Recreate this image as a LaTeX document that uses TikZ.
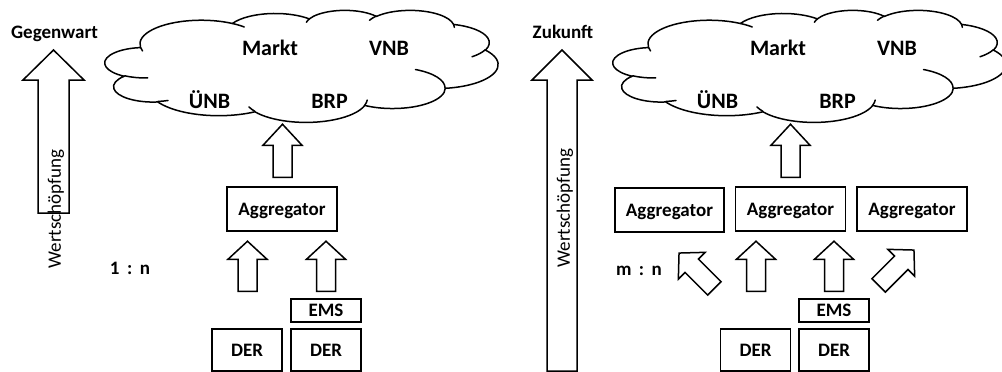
\documentclass[tikz,border=0pt]{standalone}
\usepackage{fontspec}
\setmainfont{Carlito}
\usetikzlibrary{calc}

\tikzset{
  ink/.style={draw=black, line width=1.5pt},
  box/.style={ink, fill=white, rectangle, inner sep=0pt, text height=12pt, text depth=0pt,
    font=\bfseries\fontsize{19}{19}\selectfont},
  lbl/.style={inner sep=0pt, anchor=base, font=\bfseries\fontsize{19}{19}\selectfont},
  actor/.style={inner sep=0pt, anchor=base, font=\bfseries\fontsize{22}{22}\selectfont},
  axistext/.style={inner sep=0pt, rotate=90, font=\fontsize{19}{19}\selectfont},
  % elliptical arc given by radii, start angle and sweep measured as ray angles
  carc/.style n args={4}{insert path={arc[x radius=#1, y radius=#2,
      start angle={atan2(#1*sin(#3),#2*cos(#3))},
      delta angle={mod(atan2(#1*sin(#3+#4),#2*cos(#3+#4))-atan2(#1*sin(#3),#2*cos(#3))+720,360)}]}},
  % hollow block arrow: length, head length, head width, shaft width
  pics/blockarrow/.style n args={4}{code={
    \draw[ink, fill=white] (0,{-#4/2}) -- ({#1-#2},{-#4/2}) -- ({#1-#2},{-#3/2}) -- (#1,0)
      -- ({#1-#2},{#3/2}) -- ({#1-#2},{#4/2}) -- (0,{#4/2}) -- cycle;}},
  % cloud outline on a 100 x 100 grid
  pics/cloud/.style={code={
    \draw[ink, fill=white, line join=round] (9.0278,33.2639)
      [carc={15.632}{21.273}{-190.4875}{123.7805}]
      [carc={12.345}{16.822}{-144.1024}{89.9452}]
      [carc={10.104}{13.762}{-145.8079}{99.7230}]
      [carc={11.243}{15.266}{-130.9861}{117.2417}]
      [carc={12.345}{16.836}{-78.7089}{109.0269}]
      [carc={15.683}{21.343}{-46.2673}{130.2690}]
      [carc={13.391}{18.211}{0.6250}{114.0333}]
      [carc={15.630}{21.331}{22.4516}{115.1726}]
      [carc={17.870}{24.405}{66.2426}{75.7110}]
      [carc={10.093}{13.699}{-274.9421}{146.7356}]
      [carc={10.058}{13.762}{-246.8285}{152.5189}]
      -- cycle;
    \draw[ink, line cap=round]
      (10.863,60.595) [carc={10.058}{13.762}{86.742}{26.4295}]
      (16.037,80.785) [carc={10.093}{13.699}{73.6105}{11.4475}]
      (38.144,90.486) [carc={15.630}{21.331}{137.6242}{14.0811}]
      (66.729,80.442) [carc={15.630}{21.331}{6.4533}{15.9984}]
      (79.002,53.134) [carc={13.391}{18.211}{-70.2924}{70.9174}]
      (96.755,35.542) [carc={12.345}{16.836}{30.318}{27.7515}]
      (88.713,12.560) [carc={11.243}{15.266}{-13.7443}{14.8589}]
      (67.310,9.148) [carc={11.243}{15.266}{-149.1815}{18.1954}]
      (51.252,10.926) [carc={10.104}{13.762}{-163.4943}{17.6864}]
      (32.407,12.019) [carc={15.632}{21.273}{-66.707}{12.3194}]
      (9.553,36.549) [carc={15.632}{21.273}{157.6544}{11.8582}];
  }},
}

\begin{document}
\begin{tikzpicture}[x=1pt, y=-1pt]
\useasboundingbox (0,0) rectangle (1002,372);

% ---------------- present ----------------
\begin{scope}[shift={(105,10)}, x=3.93pt, y=-1.12pt]
  \pic {cloud};
\end{scope}
\node[actor] (L-markt) at (270,55) {Markt};
\node[actor] (L-vnb) at (389,55) {VNB};
\node[actor] (L-unb) at (209.5,108) {ÜNB};
\node[actor] (L-brp) at (329.5,108) {BRP};

\node[lbl] (L-title) at (54.5,38) {Gegenwart};
\pic[rotate=90] at (53.5,213) {blockarrow={163}{30}{61}{31}};
\node[axistext] (L-axis) at (56,209) {Wertschöpfung};
\node[lbl] (L-ratio) at (130,274) {1\hspace{7.5pt}:\hspace{7.5pt}n};

\node[box, minimum width=110pt, minimum height=44pt] (L-agg) at (282,209) {Aggregator};
\node[box, minimum width=70pt, minimum height=23pt] (L-ems) at (326,310.5) {EMS};
\node[box, minimum width=70pt, minimum height=42pt] (L-der1) at (247,350) {DER};
\node[box, minimum width=70pt, minimum height=42pt] (L-der2) at (326,350) {DER};

\pic[rotate=90] at ($(L-agg.north)+(0.5,-9)$) {blockarrow={53}{21}{39}{19}};
\pic[rotate=90] at ($(L-der1.north)+(0.5,-37)$) {blockarrow={50}{18}{39}{19}};
\pic[rotate=90] at ($(L-ems.north)+(0,-7)$) {blockarrow={50}{18}{39}{19}};

% ---------------- future ----------------
\begin{scope}[shift={(613,10)}, x=3.93pt, y=-1.12pt]
  \pic {cloud};
\end{scope}
\node[actor] (R-markt) at (778,55) {Markt};
\node[actor] (R-vnb) at (897,55) {VNB};
\node[actor] (R-unb) at (717.5,108) {ÜNB};
\node[actor] (R-brp) at (837.5,108) {BRP};

\node[lbl] (R-title) at (563,38) {Zukunft};
\pic[rotate=90] at (562,371) {blockarrow={321}{30}{60}{30}};
\node[axistext] (R-axis) at (565,208) {Wertschöpfung};
\node[lbl] (R-ratio) at (639,275) {m\hspace{7.5pt}:\hspace{7.5pt}n};

\node[box, minimum width=109pt, minimum height=44pt] (R-aggL) at (669.5,210) {Aggregator};
\node[box, minimum width=110pt, minimum height=44pt] (R-agg) at (790.5,209) {Aggregator};
\node[box, minimum width=110pt, minimum height=44pt] (R-aggR) at (912,209) {Aggregator};
\node[box, minimum width=70pt, minimum height=23pt] (R-ems) at (834,310.5) {EMS};
\node[box, minimum width=70pt, minimum height=42pt] (R-der1) at (755.5,350) {DER};
\node[box, minimum width=70pt, minimum height=42pt] (R-der2) at (834,350) {DER};

\pic[rotate=90] at ($(R-agg.north)+(0,-9)$) {blockarrow={53}{21}{39}{19}};
\pic[rotate=90] at ($(R-der1.north)+(0.5,-37)$) {blockarrow={50}{18}{39}{19}};
\pic[rotate=90] at ($(R-ems.north)+(0,-7)$) {blockarrow={50}{18}{39}{19}};
\pic[rotate=135] at (714.4,288.4) {blockarrow={50}{18}{38}{19}};
\pic[rotate=45] at (878.6,285.4) {blockarrow={50}{18}{38}{19}};
\end{tikzpicture}
\end{document}
